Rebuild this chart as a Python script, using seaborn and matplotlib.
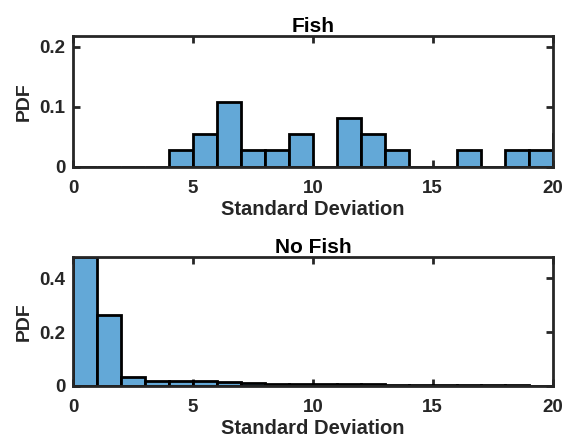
import numpy as np
import pandas as pd
import matplotlib
matplotlib.use("Agg")
import matplotlib.pyplot as plt
import seaborn as sns

# Data: PDF per 1-unit bin of standard deviation
bin_edges = list(range(0, 22))
fish_pdf = [0, 0, 0, 0, 0.027, 0.054, 0.108, 0.027, 0.027, 0.054, 0,
            0.081, 0.054, 0.027, 0, 0, 0.027, 0, 0.027, 0.027, 0.054]
nofish_pdf = [0.479, 0.262, 0.032, 0.019, 0.018, 0.017, 0.014, 0.012, 0.009, 0.008,
              0.007, 0.007, 0.006, 0.005, 0.004, 0.003, 0.003, 0.002, 0.002, 0.001, 0.001]
titles = ["Fish", "No Fish"]
xticks = [0, 5, 10, 15, 20]
top_yticks = [0, 0.1, 0.2]
bot_yticks = [0, 0.2, 0.4]

sns.set_theme(style="white")
plt.rcParams['font.family'] = ['Liberation Sans', 'DejaVu Sans']
plt.rcParams['font.weight'] = 'bold'

fig = plt.figure(figsize=(5.69, 4.45), dpi=100)
W, H = 569, 445
L, R = 73.3, 552.5
ax1 = fig.add_axes([L / W, 1 - 166.7 / H, (R - L) / W, (166.7 - 35.7) / H])
ax2 = fig.add_axes([L / W, 1 - 386.0 / H, (R - L) / W, (386.0 - 256.7) / H])

bar_color = "#63A8D7"
centers = [e + 0.5 for e in bin_edges[:-1]]
dark = '#262626'

for ax, vals, title, ylim, yt in [
    (ax1, fish_pdf, titles[0], 0.218, top_yticks),
    (ax2, nofish_pdf, titles[1], 0.48, bot_yticks),
]:
    df = pd.DataFrame({"x": centers, "w": vals})
    sns.histplot(data=df, x="x", weights="w", bins=bin_edges, stat="count",
                 color=bar_color, alpha=1, edgecolor="black", linewidth=2.0, ax=ax)
    ax.set_xlim(0, 20)
    ax.set_ylim(0, ylim)
    ax.set_xticks(xticks)
    ax.set_xticklabels([str(t) for t in xticks])
    ax.set_yticks(yt)
    ax.set_yticklabels(["0" if t == 0 else f"{t:.1f}" for t in yt])
    ax.set_title(title, fontsize=15, fontweight='bold', color='black', pad=3)
    ax.set_xlabel("Standard Deviation", fontsize=14.5, fontweight='bold', color=dark, labelpad=2)
    ax.set_ylabel("PDF", fontsize=14, fontweight='bold', color=dark, labelpad=5)
    for s in ax.spines.values():
        s.set_visible(True)
        s.set_color(dark)
        s.set_linewidth(2.0)
    ax.tick_params(axis='both', direction='in', length=5, width=2.0, color=dark,
                   top=True, right=True, bottom=True, left=True,
                   labelsize=13.5, labelcolor=dark)
    ax.tick_params(axis='x', pad=9.5)
    ax.tick_params(axis='y', pad=5.5)
    for lab in ax.get_xticklabels() + ax.get_yticklabels():
        lab.set_fontweight('bold')
    ax.grid(False)

fig.savefig("out.png", dpi=100, facecolor="white")
